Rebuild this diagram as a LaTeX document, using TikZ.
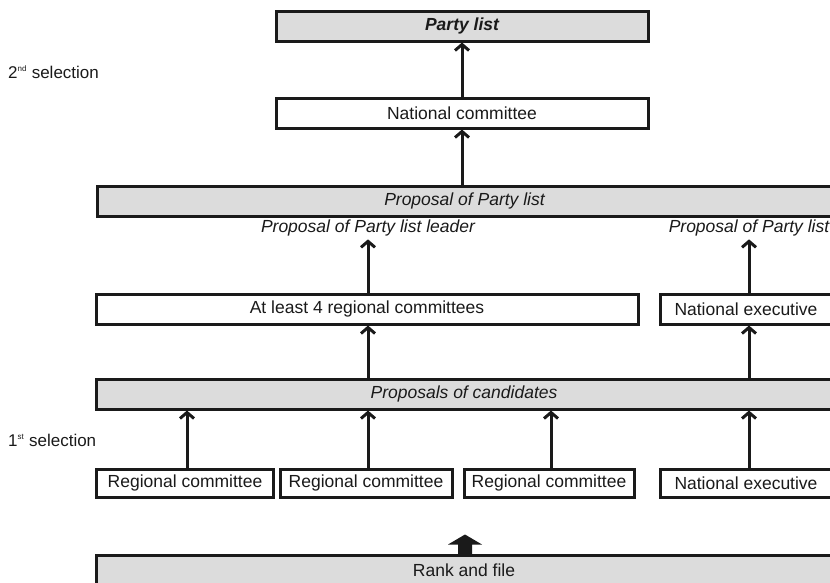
\documentclass[tikz,border=0pt]{standalone}
\usepackage{fontspec}
\setmainfont{Liberation Sans}
\usetikzlibrary{arrows.meta,calc}
\definecolor{boxgray}{HTML}{DCDCDC}
\definecolor{ink}{HTML}{1A1A1A}
\begin{document}
\begin{tikzpicture}[x=1pt,y=-1pt,
  box/.style={draw=ink, line width=3pt, minimum height=30pt, inner sep=0pt,
              font=\fontsize{17.5}{20}\selectfont, text=ink},
  shaded/.style={box, fill=boxgray},
  plain/.style={box, fill=white},
  tag/.style={font=\fontsize{17.5}{20}\selectfont\itshape, text=ink, inner sep=1pt},
  side/.style={font=\fontsize{17}{19}\selectfont, text=ink, anchor=west, inner sep=0pt},
  link/.style={draw=ink, line width=3pt, -{Straight Barb[length=6pt,width=14pt]}},
]
\clip (0,0) rectangle (830,582);

% selection levels
\node[side] (sel2) at (8,72) {2\textsuperscript{\fontsize{8}{9}\selectfont nd} selection};
\node[side] (sel1) at (8,440) {1\textsuperscript{\fontsize{8}{9}\selectfont st} selection};

% second selection
\node[shaded, minimum width=372pt, font=\fontsize{17.5}{20}\selectfont\bfseries\itshape] (plist) at (462,26) {Party list};
\node[plain, minimum width=372pt] (natcom) at (462,113) {National committee};
\node[shaded, minimum width=735pt, font=\fontsize{17.5}{20}\selectfont\itshape] (proplist) at (464.5,201) {Proposal of Party list};

\node[tag] (leader) at (368,228) {Proposal of Party list leader};
\node[tag] (nelist) at (749,228) {Proposal of Party list};

% committees
\node[plain, minimum width=542pt] (regs) at (367,309) {At least 4 regional committees};
\node[plain, minimum width=172pt] (ne1) at (746,309) {National executive};

\node[shaded, minimum width=736pt, font=\fontsize{17.5}{20}\selectfont\itshape] (cands) at (464,394) {Proposals of candidates};

% first selection
\node[plain, minimum width=177pt, minimum height=28pt] (rc1) at (185,483) {Regional committee};
\node[plain, minimum width=172pt, minimum height=28pt] (rc2) at (366,483) {Regional committee};
\node[plain, minimum width=170pt, minimum height=28pt] (rc3) at (549,483) {Regional committee};
\node[plain, minimum width=172pt, minimum height=28pt] (ne2) at (746,483) {National executive};

\node[shaded, minimum width=736pt] (rank) at (464,570) {Rank and file};

% connectors
\draw[link] (natcom.north) -- (plist.south);
\draw[link] (proplist.north -| natcom.south) -- (natcom.south);
\draw[link] (regs.north -| leader.south) -- ($(leader.south)+(0,2)$);
\draw[link] (ne1.north -| nelist.south) -- ($(nelist.south)+(0,2)$);
\draw[link] (cands.north -| leader.south) -- (regs.south -| leader.south);
\draw[link] (cands.north -| nelist.south) -- (ne1.south -| nelist.south);
\draw[link] (rc1.north -| 187,0) -- (cands.south -| 187,0);
\draw[link] (rc2.north -| leader.south) -- (cands.south -| leader.south);
\draw[link] (rc3.north -| 551,0) -- (cands.south -| 551,0);
\draw[link] (ne2.north -| nelist.south) -- (cands.south -| nelist.south);

% block arrow rising from the rank and file
\coordinate (up) at ($(rank.north)+(1,0)$);
\fill[ink] ($(up)+(-7,1)$) -- ($(up)+(-7,-9)$) -- ($(up)+(-17,-9)$) -- ($(up)+(0,-19)$)
  -- ($(up)+(17,-9)$) -- ($(up)+(7,-9)$) -- ($(up)+(7,1)$) -- cycle;
\end{tikzpicture}
\end{document}
